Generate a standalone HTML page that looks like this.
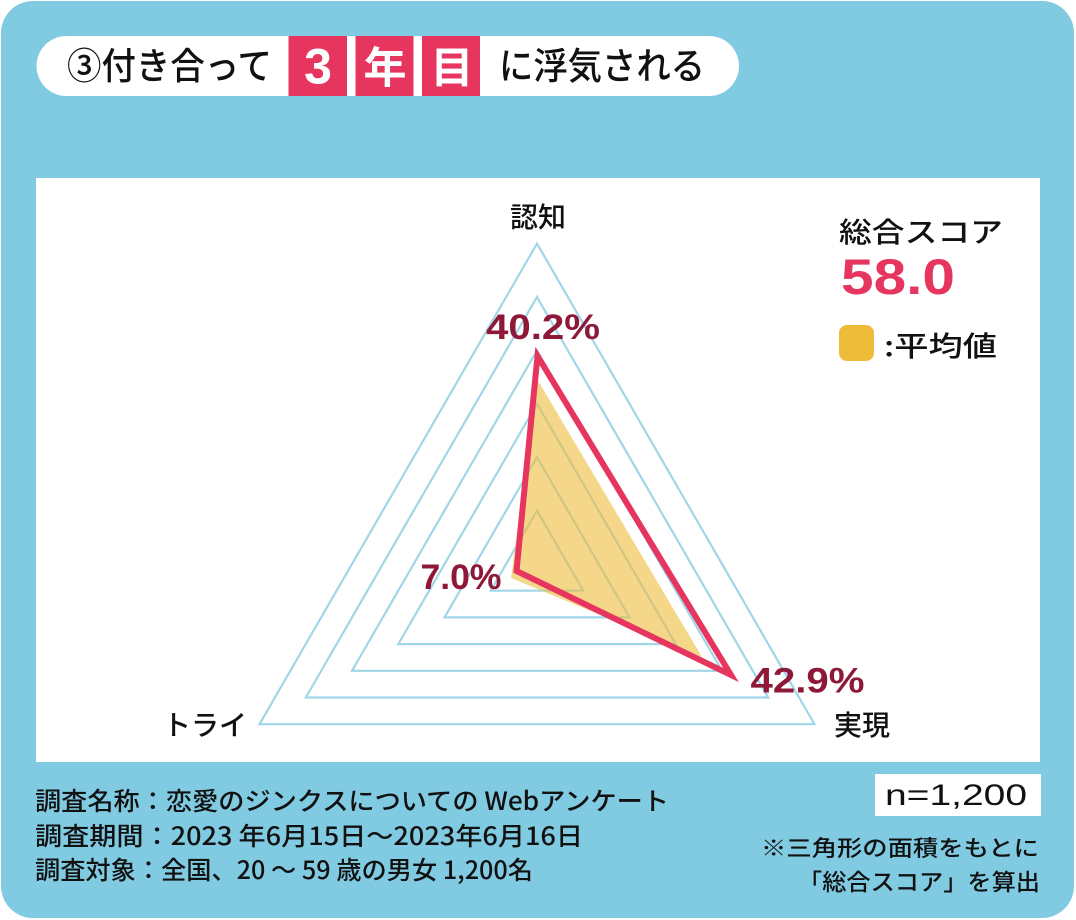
<!DOCTYPE html>
<html>
<head>
<meta charset="utf-8">
<style>
  html, body { margin: 0; padding: 0; background: #ffffff; }
  body { width: 1076px; height: 920px; overflow: hidden; }
  svg { display: block; }
  text { font-family: "Liberation Sans", "Noto Sans CJK JP", sans-serif; }
  .jp { font-family: "Noto Sans CJK JP", "Liberation Sans", sans-serif; }
  .m { font-weight: 500; }
</style>
</head>
<body>
<svg width="1076" height="920" viewBox="0 0 1076 920" xmlns="http://www.w3.org/2000/svg">
  <!-- outer blue card -->
  <rect x="1" y="1" width="1073" height="917" rx="32" ry="32" fill="#80CBE2"/>

  <!-- title pill -->
  <rect x="36.5" y="36" width="702.5" height="60" rx="30" ry="30" fill="#ffffff"/>
  <rect x="288.5" y="36" width="58.5" height="60" fill="#E6365F"/>
  <rect x="355.5" y="36" width="58" height="60" fill="#E6365F"/>
  <rect x="422" y="36" width="58" height="60" fill="#E6365F"/>
  <text class="jp m" x="67" y="79" font-size="37" fill="#111" textLength="205" lengthAdjust="spacingAndGlyphs">③付き合って</text>
  <text x="318" y="83.3" font-size="50" font-weight="bold" fill="#fff" text-anchor="middle">3</text>
  <text class="jp" x="385" y="83" font-size="43" font-weight="bold" fill="#fff" text-anchor="middle">年</text>
  <text class="jp" x="452" y="83" font-size="43" font-weight="bold" fill="#fff" text-anchor="middle">目</text>
  <text class="jp m" x="499" y="79" font-size="37" fill="#111" textLength="206" lengthAdjust="spacingAndGlyphs">に浮気される</text>

  <!-- white chart panel -->
  <rect x="36" y="178" width="1004" height="584" fill="#ffffff"/>

  <!-- grid triangles -->
  <g fill="none" stroke="#A0D6E8" stroke-width="2.2" stroke-linejoin="miter">
    <polygon points="537,510.6 583.25,590.7 490.75,590.7"/>
    <polygon points="537,457.2 629.5,617.4 444.5,617.4"/>
    <polygon points="537,403.8 675.7,644.1 398.3,644.1"/>
    <polygon points="537,350.4 722,670.8 352,670.8"/>
    <polygon points="537,297 768.2,697.5 305.8,697.5"/>
    <polygon points="537,243.6 814.5,724.2 259.5,724.2"/>
  </g>

  <!-- average (yellow) -->
  <polygon points="537,379 702,657 511,578" fill="#EFBD3C" fill-opacity="0.6"/>
  <!-- this item (red) -->
  <polygon points="537.5,356 731,675 516.5,571" fill="none" stroke="#E6365F" stroke-width="6" stroke-linejoin="miter" stroke-miterlimit="10"/>

  <!-- axis labels -->
  <text class="jp m" x="538" y="227" font-size="28" fill="#111" text-anchor="middle">認知</text>
  <text class="jp m" x="163" y="735" font-size="28" fill="#111">トライ</text>
  <text class="jp m" x="834" y="735" font-size="28" fill="#111">実現</text>

  <!-- values -->
  <text x="486" y="339" font-size="35" font-weight="bold" fill="#8E1838" textLength="114" lengthAdjust="spacingAndGlyphs">40.2%</text>
  <text x="420.5" y="589" font-size="35" font-weight="bold" fill="#8E1838" textLength="81" lengthAdjust="spacingAndGlyphs">7.0%</text>
  <text x="750.5" y="692.5" font-size="35" font-weight="bold" fill="#8E1838" textLength="114" lengthAdjust="spacingAndGlyphs">42.9%</text>

  <!-- legend -->
  <text class="jp m" x="839" y="242" font-size="28" fill="#111" textLength="164" lengthAdjust="spacingAndGlyphs">総合スコア</text>
  <text x="841" y="294" font-size="50" font-weight="bold" fill="#E6365F" textLength="114" lengthAdjust="spacingAndGlyphs">58.0</text>
  <rect x="839" y="325" width="35" height="36" rx="8" ry="8" fill="#EFBC3A"/>
  <text class="jp m" x="884" y="356" font-size="28" fill="#111" textLength="113" lengthAdjust="spacingAndGlyphs">:平均値</text>

  <!-- footer -->
  <text class="jp m" x="35" y="810" font-size="25" fill="#111" textLength="634" lengthAdjust="spacingAndGlyphs">調査名称：恋愛のジンクスについての Webアンケート</text>
  <text class="jp m" x="35" y="845" font-size="25" fill="#111" textLength="548" lengthAdjust="spacingAndGlyphs">調査期間：2023 年6月15日～2023年6月16日</text>
  <text class="jp m" x="35" y="879" font-size="25" fill="#111" textLength="498" lengthAdjust="spacingAndGlyphs">調査対象：全国、20 ～ 59 歳の男女 1,200名</text>

  <rect x="875" y="774" width="166" height="42" fill="#ffffff"/>
  <text x="885" y="805" font-size="30" fill="#111" textLength="142" lengthAdjust="spacingAndGlyphs">n=1,200</text>

  <text class="jp m" x="1039" y="856" font-size="22" fill="#111" text-anchor="end" textLength="278" lengthAdjust="spacingAndGlyphs">※三角形の面積をもとに</text>
  <text class="jp m" x="1040" y="890" font-size="23" fill="#111" text-anchor="end" textLength="242" lengthAdjust="spacingAndGlyphs">「総合スコア」を算出</text>
</svg>
</body>
</html>
